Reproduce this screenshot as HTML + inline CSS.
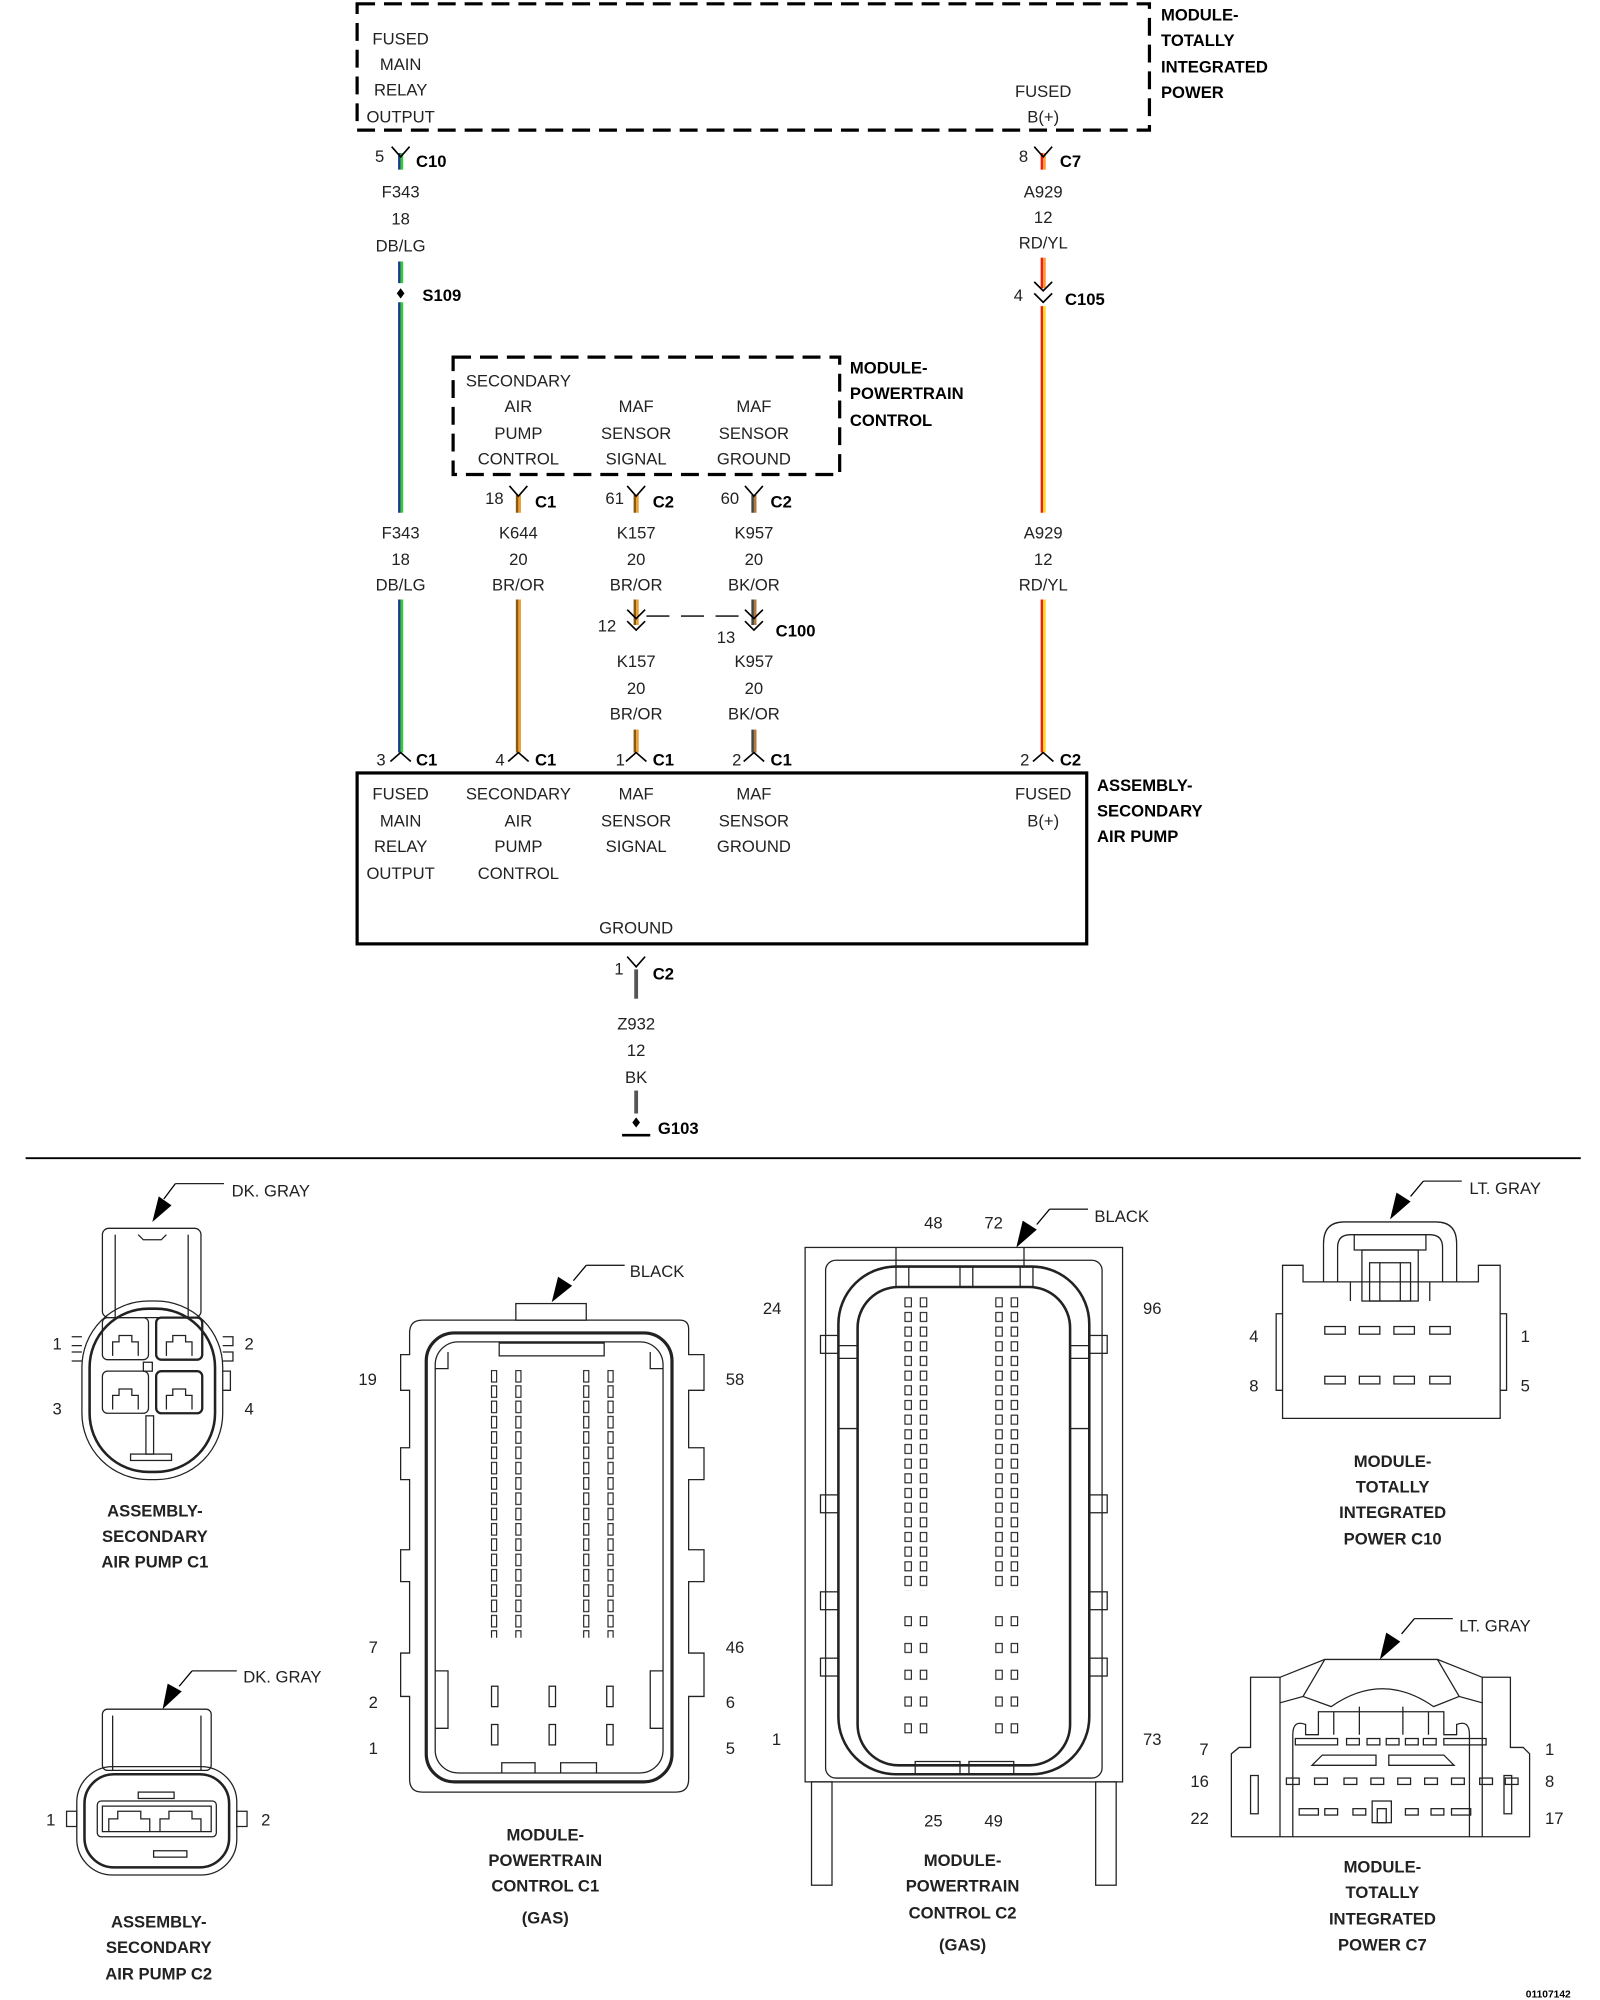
<!DOCTYPE html>
<html><head><meta charset="utf-8"><style>
html,body{margin:0;padding:0;background:#fff;}
svg{display:block;}
text{font-family:"Liberation Sans",sans-serif;font-size:13px;fill:#222;}
.b{font-weight:bold;fill:#000;}
.m{text-anchor:middle;}
.l{fill:none;stroke:#000;stroke-width:1.3;}
.t{fill:none;stroke:#222;stroke-width:1;}
</style></head><body>
<svg width="1600" height="2000" viewBox="0 0 1250 1568" preserveAspectRatio="none" xmlns="http://www.w3.org/2000/svg">
<defs>
<pattern id="p1" patternUnits="userSpaceOnUse" x="0" y="1074" width="1250" height="12">
<rect x="384" y="0.5" width="4" height="9" fill="none" stroke="#222" stroke-width="0.9"/>
<rect x="403" y="0.5" width="4" height="9" fill="none" stroke="#222" stroke-width="0.9"/>
<rect x="456" y="0.5" width="4" height="9" fill="none" stroke="#222" stroke-width="0.9"/>
<rect x="475" y="0.5" width="4" height="9" fill="none" stroke="#222" stroke-width="0.9"/>
</pattern>
<pattern id="p2" patternUnits="userSpaceOnUse" x="0" y="1017" width="1250" height="11.5">
<rect x="707" y="0.5" width="5" height="7" fill="none" stroke="#222" stroke-width="0.9"/>
<rect x="719" y="0.5" width="5" height="7" fill="none" stroke="#222" stroke-width="0.9"/>
<rect x="778" y="0.5" width="5" height="7" fill="none" stroke="#222" stroke-width="0.9"/>
<rect x="790" y="0.5" width="5" height="7" fill="none" stroke="#222" stroke-width="0.9"/>
</pattern>
<pattern id="p3" patternUnits="userSpaceOnUse" x="0" y="1267" width="1250" height="21">
<rect x="707" y="0.5" width="5" height="7" fill="none" stroke="#222" stroke-width="0.9"/>
<rect x="719" y="0.5" width="5" height="7" fill="none" stroke="#222" stroke-width="0.9"/>
<rect x="778" y="0.5" width="5" height="7" fill="none" stroke="#222" stroke-width="0.9"/>
<rect x="790" y="0.5" width="5" height="7" fill="none" stroke="#222" stroke-width="0.9"/>
</pattern>
</defs>

<!-- TIPM dashed box -->
<path d="M279 3 H898 V102 H279 Z" fill="none" stroke="#000" stroke-width="2.5" stroke-dasharray="14,7"/>
<g class="m">
<text x="313" y="35">FUSED</text><text x="313" y="55">MAIN</text><text x="313" y="75">RELAY</text><text x="313" y="96">OUTPUT</text>
<text x="815" y="76">FUSED</text><text x="815" y="96">B(+)</text>
</g>
<text class="b" x="907" y="16">MODULE-</text><text class="b" x="907" y="36">TOTALLY</text><text class="b" x="907" y="57">INTEGRATED</text><text class="b" x="907" y="77">POWER</text>

<!-- wires -->
<g stroke-width="2">
<!-- F343 -->
<line x1="312" y1="120" x2="312" y2="133" stroke="#1a3c8c"/><line x1="314" y1="120" x2="314" y2="133" stroke="#3c3"/>
<line x1="312" y1="205" x2="312" y2="222" stroke="#1a3c8c"/><line x1="314" y1="205" x2="314" y2="222" stroke="#3c3"/>
<line x1="312" y1="237" x2="312" y2="402" stroke="#1a3c8c"/><line x1="314" y1="237" x2="314" y2="402" stroke="#3c3"/>
<line x1="312" y1="470" x2="312" y2="590" stroke="#1a3c8c"/><line x1="314" y1="470" x2="314" y2="590" stroke="#3c3"/>
<!-- A929 -->
<line x1="814" y1="120" x2="814" y2="133" stroke="#e21"/><line x1="816" y1="120" x2="816" y2="133" stroke="#f93"/>
<line x1="814" y1="202" x2="814" y2="226" stroke="#e21"/><line x1="816" y1="202" x2="816" y2="226" stroke="#f93"/>
<line x1="814" y1="240" x2="814" y2="402" stroke="#e21"/><line x1="816" y1="240" x2="816" y2="402" stroke="#fd2"/>
<line x1="814" y1="470" x2="814" y2="590" stroke="#e21"/><line x1="816" y1="470" x2="816" y2="590" stroke="#fd2"/>
<!-- K644 -->
<line x1="404" y1="388" x2="404" y2="402" stroke="#8a5a10"/><line x1="406" y1="388" x2="406" y2="402" stroke="#e9a030"/>
<line x1="404" y1="470" x2="404" y2="590" stroke="#8a5a10"/><line x1="406" y1="470" x2="406" y2="590" stroke="#e9a030"/>
<!-- K157 -->
<line x1="496" y1="388" x2="496" y2="402" stroke="#8a5a10"/><line x1="498" y1="388" x2="498" y2="402" stroke="#e9a030"/>
<line x1="496" y1="470" x2="496" y2="490" stroke="#8a5a10"/><line x1="498" y1="470" x2="498" y2="490" stroke="#e9a030"/>
<line x1="496" y1="572" x2="496" y2="590" stroke="#8a5a10"/><line x1="498" y1="572" x2="498" y2="590" stroke="#e9a030"/>
<!-- K957 -->
<line x1="588" y1="388" x2="588" y2="402" stroke="#444"/><line x1="590" y1="388" x2="590" y2="402" stroke="#b07a3a"/>
<line x1="588" y1="470" x2="588" y2="490" stroke="#444"/><line x1="590" y1="470" x2="590" y2="490" stroke="#b07a3a"/>
<line x1="588" y1="572" x2="588" y2="590" stroke="#444"/><line x1="590" y1="572" x2="590" y2="590" stroke="#b07a3a"/>
<!-- Z932 -->
<line x1="497" y1="760" x2="497" y2="783" stroke="#555" stroke-width="3"/>
<line x1="497" y1="855" x2="497" y2="873" stroke="#555" stroke-width="3"/>
</g>

<!-- top Y connectors -->
<g class="l">
<path d="M306 115 L313 123 L320 115"/>
<path d="M808 115 L815 123 L822 115"/>
<path d="M398 381 L405 389 L412 381"/>
<path d="M490 381 L497 389 L504 381"/>
<path d="M582 381 L589 389 L596 381"/>
<path d="M490 750 L497 758 L504 750"/>
<!-- C105 double chevron -->
<path d="M808 221 L815 228 L822 221"/><path d="M808 230 L815 237 L822 230"/>
<!-- C100 -->
<path d="M490 478 L497 485 L504 478"/><path d="M490 487 L497 494 L504 487"/>
<path d="M582 478 L589 485 L596 478"/><path d="M582 487 L589 494 L596 487"/>
<!-- bottom carets -->
<path d="M305 597 L313 590 L321 597"/>
<path d="M397 597 L405 590 L413 597"/>
<path d="M489 597 L497 590 L505 597"/>
<path d="M581 597 L589 590 L597 597"/>
<path d="M807 597 L815 590 L823 597"/>
</g>
<line x1="505" y1="483" x2="582" y2="483" stroke="#000" stroke-width="1" stroke-dasharray="18,9"/>
<!-- S109 dot -->
<path d="M313 226 L316 230 L313 234 L310 230 Z" fill="#000"/>

<!-- connector labels -->
<text x="293" y="127">5</text><text class="b" x="325" y="131">C10</text>
<text x="796" y="127">8</text><text class="b" x="828" y="131">C7</text>
<text class="b" x="330" y="236">S109</text>
<text x="792" y="236">4</text><text class="b" x="832" y="239">C105</text>
<text x="379" y="395">18</text><text class="b" x="418" y="398">C1</text>
<text x="473" y="395">61</text><text class="b" x="510" y="398">C2</text>
<text x="563" y="395">60</text><text class="b" x="602" y="398">C2</text>
<text x="467" y="495">12</text><text x="560" y="504">13</text><text class="b" x="606" y="499">C100</text>
<text x="294" y="600">3</text><text class="b" x="325" y="600">C1</text>
<text x="387" y="600">4</text><text class="b" x="418" y="600">C1</text>
<text x="481" y="600">1</text><text class="b" x="510" y="600">C1</text>
<text x="572" y="600">2</text><text class="b" x="602" y="600">C1</text>
<text x="797" y="600">2</text><text class="b" x="828" y="600">C2</text>
<text x="480" y="764">1</text><text class="b" x="510" y="768">C2</text>

<g class="m">
<text x="313" y="155">F343</text><text x="313" y="176">18</text><text x="313" y="197">DB/LG</text>
<text x="815" y="155">A929</text><text x="815" y="175">12</text><text x="815" y="195">RD/YL</text>
<text x="313" y="422">F343</text><text x="313" y="443">18</text><text x="313" y="463">DB/LG</text>
<text x="405" y="422">K644</text><text x="405" y="443">20</text><text x="405" y="463">BR/OR</text>
<text x="497" y="422">K157</text><text x="497" y="443">20</text><text x="497" y="463">BR/OR</text>
<text x="589" y="422">K957</text><text x="589" y="443">20</text><text x="589" y="463">BK/OR</text>
<text x="815" y="422">A929</text><text x="815" y="443">12</text><text x="815" y="463">RD/YL</text>
<text x="497" y="523">K157</text><text x="497" y="544">20</text><text x="497" y="564">BR/OR</text>
<text x="589" y="523">K957</text><text x="589" y="544">20</text><text x="589" y="564">BK/OR</text>
<text x="497" y="807">Z932</text><text x="497" y="828">12</text><text x="497" y="849">BK</text>
</g>

<!-- PCM dashed box -->
<path d="M354 280 H656 V372 H354 Z" fill="none" stroke="#000" stroke-width="2.5" stroke-dasharray="14,7"/>
<g class="m">
<text x="405" y="303">SECONDARY</text><text x="405" y="323">AIR</text><text x="405" y="344">PUMP</text><text x="405" y="364">CONTROL</text>
<text x="497" y="323">MAF</text><text x="497" y="344">SENSOR</text><text x="497" y="364">SIGNAL</text>
<text x="589" y="323">MAF</text><text x="589" y="344">SENSOR</text><text x="589" y="364">GROUND</text>
</g>
<text class="b" x="664" y="293">MODULE-</text><text class="b" x="664" y="313">POWERTRAIN</text><text class="b" x="664" y="334">CONTROL</text>

<!-- air pump box -->
<rect x="279" y="606" width="570" height="134" fill="none" stroke="#000" stroke-width="2.5"/>
<g class="m">
<text x="313" y="627">FUSED</text><text x="313" y="648">MAIN</text><text x="313" y="668">RELAY</text><text x="313" y="689">OUTPUT</text>
<text x="405" y="627">SECONDARY</text><text x="405" y="648">AIR</text><text x="405" y="668">PUMP</text><text x="405" y="689">CONTROL</text>
<text x="497" y="627">MAF</text><text x="497" y="648">SENSOR</text><text x="497" y="668">SIGNAL</text>
<text x="589" y="627">MAF</text><text x="589" y="648">SENSOR</text><text x="589" y="668">GROUND</text>
<text x="815" y="627">FUSED</text><text x="815" y="648">B(+)</text>
<text x="497" y="732">GROUND</text>
</g>
<text class="b" x="857" y="620">ASSEMBLY-</text><text class="b" x="857" y="640">SECONDARY</text><text class="b" x="857" y="660">AIR PUMP</text>

<!-- ground -->
<path d="M497 876 L500 880 L497 884 L494 880 Z" fill="#000"/>
<line x1="486" y1="890" x2="508" y2="890" stroke="#000" stroke-width="2"/>
<text class="b" x="514" y="889">G103</text>

<line x1="20" y1="908" x2="1235" y2="908" stroke="#000" stroke-width="1.5"/>

<!-- ===== Air pump C1 ===== -->
<g class="t">
<rect x="80" y="963" width="77" height="70" rx="5"/>
<line x1="90" y1="968" x2="90" y2="1033"/><line x1="147" y1="968" x2="147" y2="1033"/>
<path d="M108 968 L112 972 H126 L130 968"/>
<rect x="64" y="1020" width="110" height="140" rx="52"/>
<rect x="70" y="1026" width="98" height="128" rx="46" stroke-width="2"/>
<rect x="80" y="1033" width="36" height="33" rx="4"/>
<rect x="122" y="1033" width="36" height="33" rx="4" stroke-width="1.8"/>
<rect x="80" y="1075" width="36" height="33" rx="4"/>
<rect x="122" y="1075" width="36" height="33" rx="4" stroke-width="1.8"/>
<rect x="112" y="1068" width="7" height="7"/>
<path d="M88 1063 V1052 H93 V1047 H103 V1052 H108 V1063"/>
<path d="M130 1063 V1052 H135 V1047 H145 V1052 H150 V1063"/>
<path d="M88 1105 V1094 H93 V1089 H103 V1094 H108 V1105"/>
<path d="M130 1105 V1094 H135 V1089 H145 V1094 H150 V1105"/>
<rect x="114" y="1110" width="6" height="30"/><rect x="102" y="1140" width="32" height="5"/>
<path d="M56 1048 H64 M56 1055 H64 M56 1060 H64 M56 1067 H64"/>
<path d="M174 1048 H182 V1055 H174 M174 1060 H182 V1067 H174 M174 1075 H180 V1090 H174"/>
</g>
<path d="M137 928 H175" class="t"/>
<path d="M137 928 L128 940" stroke="#000" stroke-width="1"/>
<path d="M119 958 L124 938 L134 945 Z" fill="#000"/>
<text x="181" y="938">DK. GRAY</text>
<text x="41" y="1058">1</text><text x="191" y="1058">2</text><text x="41" y="1109">3</text><text x="191" y="1109">4</text>
<g class="b m"><text x="121" y="1189">ASSEMBLY-</text><text x="121" y="1209">SECONDARY</text><text x="121" y="1229">AIR PUMP C1</text></g>

<!-- ===== Air pump C2 ===== -->
<g class="t">
<rect x="80" y="1340" width="85" height="48" rx="4"/>
<line x1="88" y1="1345" x2="88" y2="1388"/><line x1="157" y1="1345" x2="157" y2="1388"/>
<rect x="60" y="1385" width="125" height="85" rx="28"/>
<rect x="66" y="1391" width="113" height="73" rx="23" stroke-width="2"/>
<rect x="76" y="1412" width="93" height="28" rx="3"/>
<rect x="80" y="1416" width="85" height="20"/>
<path d="M85 1436 V1426 H92 V1420 H110 V1426 H117 V1436"/>
<path d="M125 1436 V1426 H132 V1420 H150 V1426 H157 V1436"/>
<rect x="108" y="1405" width="28" height="5"/>
<rect x="120" y="1451" width="26" height="5"/>
<path d="M52 1420 H60 V1432 H52 Z M185 1420 H193 V1432 H185 Z"/>
</g>
<path d="M150 1310 H185" class="t"/><path d="M150 1310 L140 1322" stroke="#000"/>
<path d="M127 1340 L131 1320 L142 1326 Z" fill="#000"/>
<text x="190" y="1319">DK. GRAY</text>
<text x="36" y="1431">1</text><text x="204" y="1431">2</text>
<g class="b m"><text x="124" y="1511">ASSEMBLY-</text><text x="124" y="1531">SECONDARY</text><text x="124" y="1552">AIR PUMP C2</text></g>

<!-- ===== PCM C1 ===== -->
<g class="t">
<path d="M330 1035 H531 Q538 1035 538 1042 V1062 H550 V1090 H538 V1135 H550 V1160 H538 V1215 H550 V1240 H538 V1296 H550 V1330 H538 V1395 Q538 1405 528 1405 H330 Q320 1405 320 1395 V1330 H313 V1296 H320 V1240 H313 V1215 H320 V1160 H313 V1135 H320 V1090 H313 V1062 H320 V1045 Q320 1035 330 1035 Z"/>
<rect x="403" y="1022" width="55" height="13"/>
<rect x="333" y="1045" width="192" height="352" rx="22" stroke-width="2.5"/>
<rect x="340" y="1052" width="178" height="338" rx="18"/>
<rect x="390" y="1053" width="82" height="10"/>
<path d="M340 1073 H350 V1060 M518 1073 H508 V1060"/>
<path d="M340 1310 H350 V1355 H340 M518 1310 H508 V1355 H518"/>
<path d="M392 1390 V1382 H418 V1390 M438 1390 V1382 H466 V1390"/>
<rect x="384" y="1322" width="5" height="16"/><rect x="429" y="1322" width="5" height="16"/><rect x="474" y="1322" width="5" height="16"/>
<rect x="384" y="1352" width="5" height="16"/><rect x="429" y="1352" width="5" height="16"/><rect x="474" y="1352" width="5" height="16"/>
</g>
<rect x="380" y="1074" width="104" height="210" fill="url(#p1)"/>
<path d="M458 992 H488" class="t"/><path d="M458 992 L448 1004" stroke="#000"/>
<path d="M431 1021 L436 1001 L447 1008 Z" fill="#000"/>
<text x="492" y="1001">BLACK</text>
<text x="280" y="1086">19</text><text x="567" y="1086">58</text>
<text x="288" y="1296">7</text><text x="567" y="1296">46</text>
<text x="288" y="1339">2</text><text x="567" y="1339">6</text>
<text x="288" y="1375">1</text><text x="567" y="1375">5</text>
<g class="b m"><text x="426" y="1443">MODULE-</text><text x="426" y="1463">POWERTRAIN</text><text x="426" y="1483">CONTROL C1</text><text x="426" y="1508">(GAS)</text></g>

<!-- ===== PCM C2 ===== -->
<g class="t">
<rect x="629" y="978" width="248" height="419"/>
<rect x="645" y="988" width="216" height="406" rx="8"/>
<rect x="655" y="993" width="196" height="398" rx="45" stroke-width="2"/>
<rect x="670" y="1009" width="166" height="375" rx="32" stroke-width="2"/>
<path d="M700 993 V1009 M710 993 V1009 M750 993 V1009 M760 993 V1009 M797 993 V1009 M807 993 V1009"/>
<path d="M700 978 V993 M800 978 V993"/>
<path d="M655 1055 H670 M655 1065 H670 M655 1120 H670 M836 1055 H851 M836 1065 H851 M836 1120 H851"/>
<path d="M715 1391 V1381 H750 V1391 M757 1391 V1381 H792 V1391"/>
<rect x="641" y="1047" width="14" height="14"/><rect x="641" y="1172" width="14" height="14"/><rect x="641" y="1248" width="14" height="14"/><rect x="641" y="1300" width="14" height="14"/>
<rect x="851" y="1047" width="14" height="14"/><rect x="851" y="1172" width="14" height="14"/><rect x="851" y="1248" width="14" height="14"/><rect x="851" y="1300" width="14" height="14"/>
<rect x="634" y="1397" width="16" height="81"/><rect x="856" y="1397" width="16" height="81"/>
</g>
<rect x="700" y="1017" width="100" height="230" fill="url(#p2)"/>
<rect x="700" y="1267" width="100" height="105" fill="url(#p3)"/>
<path d="M820 948 H850" class="t"/><path d="M820 948 L810 960" stroke="#000"/>
<path d="M794 978 L799 957 L810 964 Z" fill="#000"/>
<text x="855" y="958">BLACK</text>
<text x="722" y="963">48</text><text x="769" y="963">72</text>
<text x="596" y="1030">24</text><text x="893" y="1030">96</text>
<text x="603" y="1368">1</text><text x="893" y="1368">73</text>
<text x="722" y="1432">25</text><text x="769" y="1432">49</text>
<g class="b m"><text x="752" y="1463">MODULE-</text><text x="752" y="1483">POWERTRAIN</text><text x="752" y="1504">CONTROL C2</text><text x="752" y="1529">(GAS)</text></g>

<!-- ===== TIPM C10 ===== -->
<g class="t">
<path d="M1002 992 H1018 V1005 H1034 V975 Q1034 958 1050 958 H1122 Q1138 958 1138 975 V1005 H1155 V992 H1172 V1112 H1002 Z"/>
<path d="M1045 1005 V978 Q1045 968 1055 968 H1117 Q1127 968 1127 978 V1005"/>
<rect x="1058" y="968" width="56" height="12"/>
<rect x="1064" y="980" width="44" height="40"/><rect x="1070" y="990" width="32" height="30"/>
<line x1="1078" y1="990" x2="1078" y2="1020"/><line x1="1094" y1="990" x2="1094" y2="1020"/>
<path d="M1034 1005 H1138 M1055 1005 V1020 M1117 1005 V1020"/>
<path d="M1002 1030 H997 V1090 H1002 M1172 1030 H1177 V1090 H1172"/>
<rect x="1035" y="1040" width="16" height="6"/><rect x="1062" y="1040" width="16" height="6"/><rect x="1089" y="1040" width="16" height="6"/><rect x="1117" y="1040" width="16" height="6"/>
<rect x="1035" y="1079" width="16" height="6"/><rect x="1062" y="1079" width="16" height="6"/><rect x="1089" y="1079" width="16" height="6"/><rect x="1117" y="1079" width="16" height="6"/>
</g>
<path d="M1112 926 H1142" class="t"/><path d="M1112 926 L1102 938" stroke="#000"/>
<path d="M1086 956 L1091 935 L1102 942 Z" fill="#000"/>
<text x="1148" y="936">LT. GRAY</text>
<text x="976" y="1052">4</text><text x="1188" y="1052">1</text><text x="976" y="1091">8</text><text x="1188" y="1091">5</text>
<g class="b m"><text x="1088" y="1150">MODULE-</text><text x="1088" y="1170">TOTALLY</text><text x="1088" y="1190">INTEGRATED</text><text x="1088" y="1211">POWER C10</text></g>

<!-- ===== TIPM C7 ===== -->
<g class="t">
<path d="M962 1440 V1375 L968 1370 V1370 H977 V1315 H1000 L1035 1301 H1123 L1158 1315 H1180 V1370 H1190 L1195 1375 V1440 Z"/>
<line x1="1000" y1="1315" x2="1000" y2="1440"/><line x1="1158" y1="1315" x2="1158" y2="1440"/>
<path d="M1000 1335 L1018 1330 L1035 1301 M1158 1335 L1140 1330 L1123 1301"/>
<path d="M1018 1330 L1040 1338 Q1080 1310 1120 1338 L1140 1330"/>
<path d="M1010 1440 V1360 Q1010 1348 1020 1352 V1360 H1030 V1342 H1128 V1360 H1138 V1352 Q1148 1348 1148 1360 V1440"/>
<path d="M1042 1342 V1360 M1062 1338 V1360 M1096 1338 V1360 M1116 1342 V1360"/>
<rect x="1012" y="1363" width="33" height="5"/><rect x="1052" y="1363" width="10" height="5"/><rect x="1068" y="1363" width="10" height="5"/><rect x="1083" y="1363" width="10" height="5"/><rect x="1098" y="1363" width="10" height="5"/><rect x="1112" y="1363" width="10" height="5"/><rect x="1128" y="1363" width="33" height="5"/>
<path d="M1025 1384 L1033 1376 H1075 V1384 Z M1085 1384 V1376 H1128 L1136 1384 Z"/>
<rect x="1005" y="1394" width="10" height="5"/><rect x="1027" y="1394" width="10" height="5"/><rect x="1050" y="1394" width="10" height="5"/><rect x="1071" y="1394" width="10" height="5"/><rect x="1092" y="1394" width="10" height="5"/><rect x="1113" y="1394" width="10" height="5"/><rect x="1134" y="1394" width="10" height="5"/><rect x="1156" y="1394" width="10" height="5"/><rect x="1176" y="1394" width="10" height="5"/>
<rect x="1015" y="1418" width="15" height="5"/><rect x="1035" y="1418" width="10" height="5"/><rect x="1057" y="1418" width="10" height="5"/>
<rect x="1072" y="1412" width="15" height="17"/><rect x="1076" y="1418" width="7" height="11"/>
<rect x="1098" y="1418" width="10" height="5"/><rect x="1118" y="1418" width="10" height="5"/><rect x="1134" y="1418" width="15" height="5"/>
<rect x="977" y="1392" width="6" height="30"/><rect x="1175" y="1392" width="6" height="30"/>
</g>
<path d="M1105 1269 H1135" class="t"/><path d="M1105 1269 L1095 1281" stroke="#000"/>
<path d="M1078 1301 L1083 1280 L1094 1287 Z" fill="#000"/>
<text x="1140" y="1279">LT. GRAY</text>
<text x="937" y="1376">7</text><text x="1207" y="1376">1</text>
<text x="930" y="1401">16</text><text x="1207" y="1401">8</text>
<text x="930" y="1430">22</text><text x="1207" y="1430">17</text>
<g class="b m"><text x="1080" y="1468">MODULE-</text><text x="1080" y="1488">TOTALLY</text><text x="1080" y="1509">INTEGRATED</text><text x="1080" y="1529">POWER C7</text></g>

<text class="b" x="1192" y="1566" style="font-size:8px">01107142</text>
</svg>
</body></html>
